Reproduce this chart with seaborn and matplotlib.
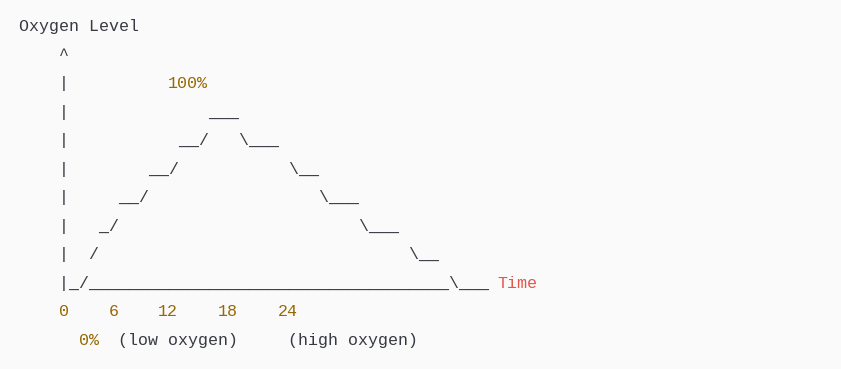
import matplotlib
matplotlib.use("Agg")
import matplotlib.pyplot as plt
import seaborn as sns

# ---- data ----
title = "Oxygen Level"
art_rows = [
    "    ^",
    "    |",
    "    |              ___",
    "    |           __/   \\___",
    "    |        __/           \\__",
    "    |     __/                 \\___",
    "    |   _/                        \\___",
    "    |  /                               \\__",
    "    |_/____________________________________\\___",
]
peak_label = "100%"
peak_col = 15
axis_label = "Time"
axis_label_col = 48
time_ticks = ["0", "6", "12", "18", "24"]
time_tick_cols = [4, 9, 14, 20, 26]
low_label = "0%"
low_col = 6
notes = ["(low oxygen)", "(high oxygen)"]
note_cols = [10, 27]

# ---- style ----
sns.set_theme(style="white")
plt.rcParams["font.family"] = ["Liberation Mono", "DejaVu Sans Mono"]
BG = "#fafafa"
FG = "#383a42"
NUM = "#986801"
RED = "#e45649"

fig = plt.figure(figsize=(8.41, 3.69), dpi=100, facecolor=BG)
ax = fig.add_axes([0, 0, 1, 1], facecolor=BG)
ax.set_xlim(0, 841)
ax.set_ylim(369, 0)
ax.axis("off")

X0, CW = 18.8, 9.96
Y0, LH = 31.3, 28.5
FS = 11.95

def put(col, row, s, color=FG):
    ax.text(X0 + col * CW, Y0 + row * LH, s, color=color, fontsize=FS,
            ha="left", va="baseline")

put(0, 0, title)
for i, r in enumerate(art_rows):
    put(0, i + 1, r)
put(peak_col, 2, peak_label, NUM)
put(axis_label_col, 9, axis_label, RED)
for t, c in zip(time_ticks, time_tick_cols):
    put(c, 10, t, NUM)
put(low_col, 11, low_label, NUM)
for t, c in zip(notes, note_cols):
    put(c, 11, t)

fig.savefig("out.png", dpi=100, facecolor=BG)
